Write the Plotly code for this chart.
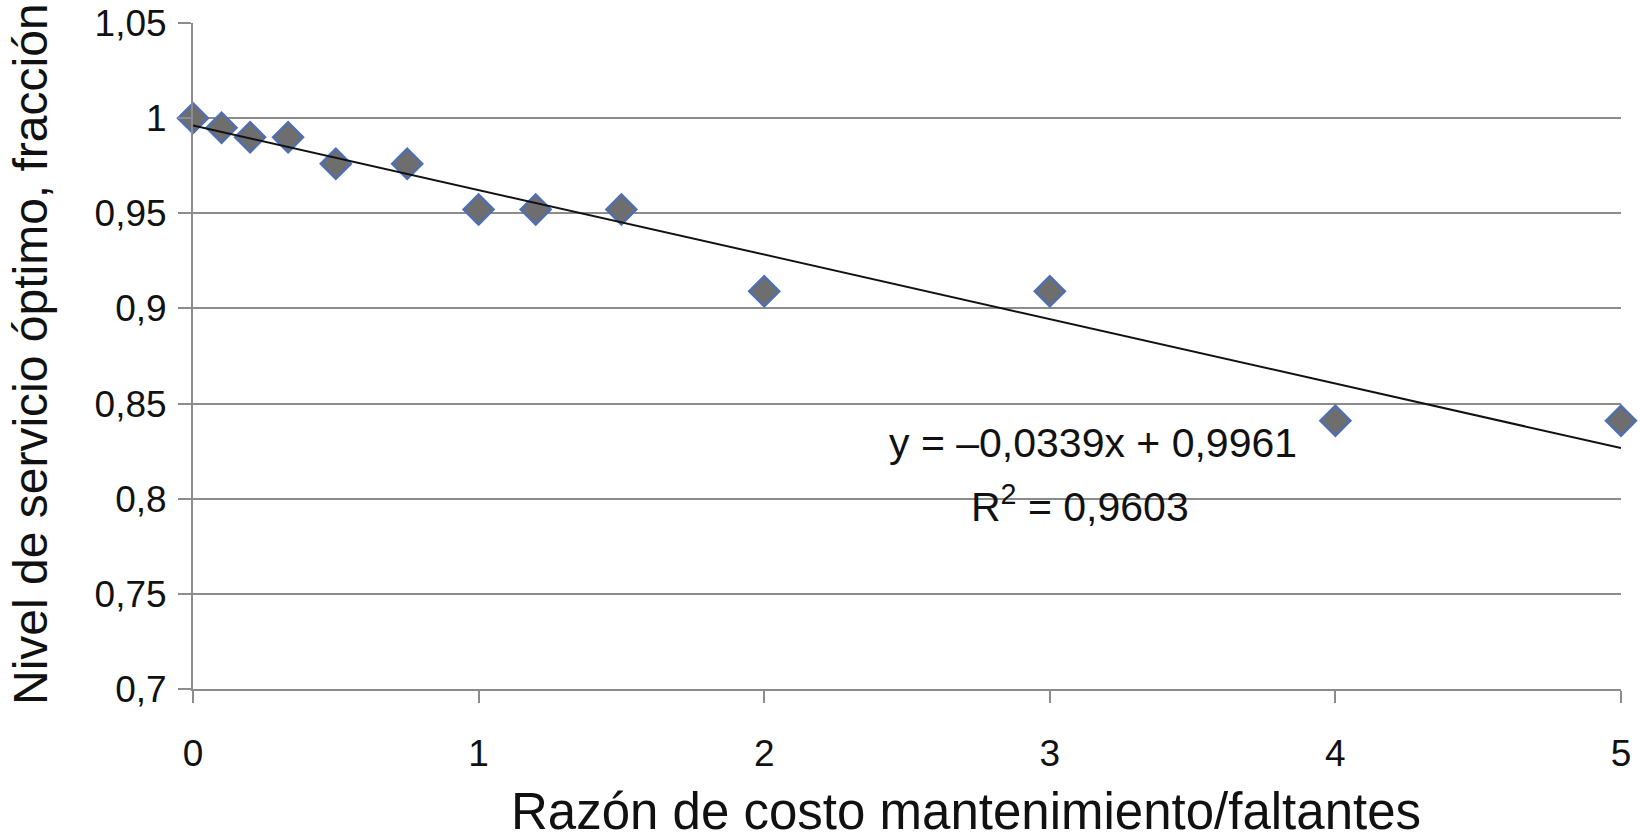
import plotly.graph_objects as go

# Data
ratio = [0, 0.1, 0.2, 0.333, 0.5, 0.75, 1.0, 1.2, 1.5, 2, 3, 4, 5]
service = [1.0, 0.995, 0.990, 0.990, 0.976, 0.976, 0.952, 0.952, 0.952, 0.909, 0.909, 0.841, 0.841]
trend_slope = -0.0339
trend_intercept = 0.9961
trend_x = [0, 5]
y_tickvals = [0.7, 0.75, 0.8, 0.85, 0.9, 0.95, 1.0, 1.05]
y_ticktext = ["0,7", "0,75", "0,8", "0,85", "0,9", "0,95", "1", "1,05"]
x_tickvals = [0, 1, 2, 3, 4, 5]
x_ticktext = ["0", "1", "2", "3", "4", "5"]
eq_text = "y = \u20130,0339x + 0,9961"
r2_text = "R<sup>2</sup> = 0,9603"
x_title = "Razón de costo mantenimiento/faltantes"
y_title = "Nivel de servicio óptimo, fracción"

FONT = "Liberation Sans, Arial, sans-serif"
GRID = "#8c8c8c"
TXT = "#111111"

fig = go.Figure()
fig.add_trace(go.Scatter(
    x=ratio, y=service, mode="markers", cliponaxis=False,
    marker=dict(symbol="diamond", size=23, color="#6e6e6e",
                line=dict(color="#4f6fb0", width=2.5)),
    showlegend=False,
))
trend_y = [trend_slope * v + trend_intercept for v in trend_x]
fig.add_trace(go.Scatter(
    x=trend_x, y=trend_y, mode="lines",
    line=dict(color=TXT, width=2),
    showlegend=False,
))

fig.update_layout(
    width=1641, height=839,
    margin=dict(l=193, r=20, t=23, b=150, autoexpand=False),
    paper_bgcolor="white", plot_bgcolor="white",
    font=dict(family=FONT, color=TXT, size=37),
    xaxis=dict(
        range=[0, 5], tickvals=x_tickvals, ticktext=x_ticktext,
        showgrid=False, zeroline=False, automargin=False,
        showline=True, linecolor=GRID, linewidth=2,
        ticks="outside", ticklen=12, tickwidth=2, tickcolor=GRID,
        ticklabelstandoff=19,
        tickfont=dict(size=37, family=FONT, color=TXT),
    ),
    yaxis=dict(
        range=[0.7, 1.05], tickvals=y_tickvals, ticktext=y_ticktext,
        showgrid=True, gridcolor=GRID, gridwidth=2,
        zeroline=False, automargin=False,
        showline=True, linecolor=GRID, linewidth=2,
        ticks="outside", ticklen=13, tickwidth=2, tickcolor=GRID,
        ticklabelstandoff=4,
        tickfont=dict(size=37, family=FONT, color=TXT),
    ),
)

fig.add_annotation(x=3.151, y=0.8295, xref="x", yref="y", text=eq_text,
                   showarrow=False, xanchor="center", yanchor="middle",
                   font=dict(size=41, family=FONT, color=TXT))
fig.add_annotation(x=3.106, y=0.797, xref="x", yref="y", text=r2_text,
                   showarrow=False, xanchor="center", yanchor="middle",
                   font=dict(size=41, family=FONT, color=TXT))
fig.add_annotation(x=0.5, y=0, xref="paper", yref="paper", text=x_title,
                   showarrow=False, xanchor="center", yanchor="middle",
                   xshift=59, yshift=-122,
                   font=dict(size=51, family=FONT, color=TXT))
fig.add_annotation(x=0, y=0.5, xref="paper", yref="paper", text=y_title,
                   showarrow=False, textangle=-90, xanchor="center", yanchor="middle",
                   xshift=-163, yshift=2,
                   font=dict(size=48, family=FONT, color=TXT))

fig.write_html("out.html",
               config={"displayModeBar": False},
               post_script="document.body.style.margin='0';document.body.style.overflow='hidden';")
